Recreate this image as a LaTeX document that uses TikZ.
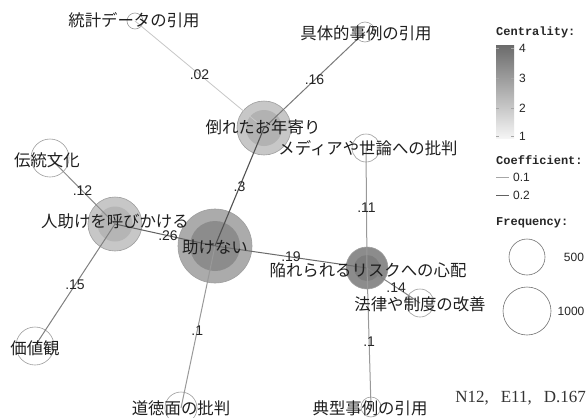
\documentclass[tikz,border=0pt]{standalone}
\usepackage{fontspec}
\newfontfamily\jpfont{Noto Sans CJK JP}
\newfontfamily\lsans{Liberation Sans}
\newfontfamily\lmono{Liberation Mono}
\newfontfamily\lserif{Liberation Serif}
\begin{document}
\begin{tikzpicture}[x=1pt,y=-1pt,
  vtx/.style 2 args={circle, draw=black!38, line width=0.6pt, inner sep=0pt, minimum size=#1, fill=#2},
  ed/.style={draw=black!#1, line width=1pt},
  el/.style={font=\lsans\fontsize{14}{14}\selectfont, inner sep=0pt, text=black!85},
  lab/.style={font=\jpfont\fontsize{16.4}{16.4}\selectfont, inner sep=0pt, text=black!88},
  legh/.style={font=\lmono\bfseries\fontsize{12}{12}\selectfont, inner sep=0pt, anchor=west, text=black!85},
  legt/.style={font=\lsans\fontsize{12}{12}\selectfont, inner sep=0pt, text=black!85},
  tickm/.style={draw=black!35, line width=0.6pt}
]
\useasboundingbox (0,0) rectangle (587,418);
\fill[white] (0,0) rectangle (587,418);

% ---------- vertices ----------
\node[vtx={54pt}{black!22}] (old) at (264,128) {};
\fill[black!30] (old.center) circle (18);
\node[vtx={74pt}{black!33}] (nohelp) at (215,246) {};
\fill[black!45] (nohelp.center) circle (25);
\node[vtx={54pt}{black!22}] (call) at (115,224) {};
\fill[black!29] (call.center) circle (17.5);
\node[vtx={42pt}{black!45}] (risk) at (367,268) {};
\fill[black!51] (risk.center) circle (13);
\node[vtx={16pt}{white}] (stat) at (135,21) {};
\node[vtx={20pt}{white}] (case) at (365,32) {};
\node[vtx={28pt}{white}] (media) at (366,148) {};
\node[vtx={38pt}{white}] (trad) at (50,158) {};
\node[vtx={28pt}{white}] (law) at (420,303) {};
\node[vtx={38pt}{white}] (value) at (35,346) {};
\node[vtx={32pt}{white}] (moral) at (181,408) {};
\node[vtx={20pt}{white}] (typ) at (371,407) {};

% ---------- edges ----------
\draw[ed=22, line width=0.8pt] (stat.center) -- node[el, pos=0.5] {.02} (old.center);
\draw[ed=52] (case.center) -- node[el, pos=0.5] {.16} (old.center);
\draw[ed=68, line width=1.1pt] (old.center) -- node[el, pos=0.5] {.3} (nohelp.center);
\draw[ed=45] (trad.center) -- node[el, pos=0.5] {.12} (call.center);
\draw[ed=62] (call.center) -- node[el, pos=0.53] {.26} (nohelp.center);
\draw[ed=50] (call.center) -- node[el, pos=0.5] {.15} (value.center);
\draw[ed=58] (nohelp.center) -- node[el, pos=0.5] {.19} (risk.center);
\draw[ed=40] (nohelp.center) -- node[el, pos=0.52] {.1} (moral.center);
\draw[ed=40] (media.center) -- node[el, pos=0.5] {.11} (risk.center);
\draw[ed=48] (risk.center) -- node[el, pos=0.55] {.14} (law.center);
\draw[ed=40] (risk.center) -- node[el, pos=0.53] {.1} (typ.center);

% ---------- labels ----------
\node[lab] (tstat) at (134,20) {統計データの引用};
\node[lab] (tcase) at (366,33) {具体的事例の引用};
\node[lab] (told) at (263,127) {倒れたお年寄り};
\node[lab] (tmedia) at (368,148) {メディアや世論への批判};
\node[lab] (ttrad) at (47,160) {伝統文化};
\node[lab] (tcall) at (115,221) {人助けを呼びかける};
\node[lab] (tnohelp) at (215,247) {助けない};
\node[lab] (trisk) at (368,270) {陥れられるリスクへの心配};
\node[lab] (tlaw) at (420,304) {法律や制度の改善};
\node[lab] (tvalue) at (35,348) {価値観};
\node[lab] (tmoral) at (181,408) {道徳面の批判};
\node[lab] (ttyp) at (370,408) {典型事例の引用};

% ---------- legend ----------
\node[legh] (hc) at (496,32) {Centrality:};
\shade[top color=black!58, bottom color=black!4] (496,45) rectangle (514,138);
\foreach \yy/\vv in {48/4,78/3,108/2,136/1}{
  \draw[tickm] (496,\yy) -- (499,\yy);
  \draw[tickm] (511,\yy) -- (514,\yy);
  \node[legt, anchor=west] at (519,\yy) {\vv};
}
\node[legh] (hk) at (496,160) {Coefficient:};
\coordinate (k1a) at (496,177); \coordinate (k1b) at (509,177);
\draw[ed=35] (k1a) -- (k1b);
\node[legt, anchor=west] at (513,177) {0.1};
\coordinate (k2a) at (496,195); \coordinate (k2b) at (509,195);
\draw[ed=62] (k2a) -- (k2b);
\node[legt, anchor=west] at (513,195) {0.2};
\node[legh] (hf) at (496,223) {Frequency:};
\node[circle, draw=black!55, line width=0.6pt, minimum size=36pt, inner sep=0pt] (f500) at (527,257) {};
\node[legt] at (574,257) {500};
\node[circle, draw=black!55, line width=0.6pt, minimum size=48pt, inner sep=0pt] (f1000) at (527,311) {};
\node[legt] at (571,311) {1000};

\node[font=\lserif\fontsize{17}{17}\selectfont, inner sep=0pt, anchor=east, text=black!80] (stats) at (586,398) {N12,\hspace{0.7em}E11,\hspace{0.7em}D.167};
\end{tikzpicture}
\end{document}
